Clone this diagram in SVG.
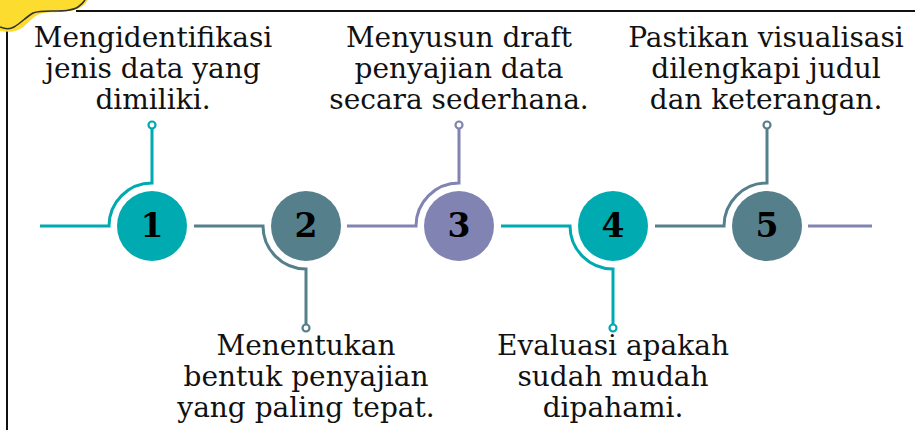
<svg xmlns="http://www.w3.org/2000/svg" width="915" height="430" viewBox="0 0 915 430">
<style>
.t{font-family:"DejaVu Serif","Liberation Serif",serif;font-size:28px;fill:#111;text-anchor:middle}
.n{font-family:"DejaVu Serif","Liberation Serif",serif;font-size:33px;font-weight:bold;fill:#000;text-anchor:middle}
.c{fill:none;stroke-width:3}
.teal{stroke:#00AAB1}
.slate{stroke:#567F8C}
.purp{stroke:#8183B2}
.ring{fill:#fff;stroke-width:2.2}
</style>
<rect width="915" height="430" fill="#fff"/>
<!-- frame -->
<g id="frame" fill="none" stroke="#111" stroke-width="2">
<line x1="7" y1="29" x2="7" y2="430"/>
<line x1="76" y1="11" x2="915" y2="11"/>
</g>
<g id="blob">
<path d="M0,0 L88,0 C84,6 80,9 70,11 C60,13 48,11 40,14 C33,16 30,22 22,28 C14,33 6,32 0,31 Z" fill="#FCDC2E"/>
<path d="M0,27 C5,29 9,30 14,27 C21,23 26,17 33,13 C38,11 44,11 52,11 C62,11 72,11 78,7 C81,5 83,3 85,0" fill="none" stroke="#333" stroke-width="1.6"/>
</g>
<g id="connectors">
<path class="c teal" d="M40,226 H109 A43,43 0 0 1 152,183 V128"/>
<circle class="ring teal" cx="152" cy="125" r="3.5"/>
<path class="c slate" d="M194,226 H263 A43,43 0 0 0 306,269 V325"/>
<circle class="ring slate" cx="306" cy="328" r="3.5"/>
<path class="c purp" d="M347,226 H416 A43,43 0 0 1 459,183 V128"/>
<circle class="ring purp" cx="459" cy="125" r="3.5"/>
<path class="c teal" d="M501,226 H570 A43,43 0 0 0 613,269 V325"/>
<circle class="ring teal" cx="613" cy="328" r="3.5"/>
<path class="c slate" d="M655,226 H724 A43,43 0 0 1 767,183 V128"/>
<circle class="ring slate" cx="767" cy="125" r="3.5"/>
<path class="c purp" d="M808,226 H872"/>
</g>
<g id="node1">
<circle cx="152" cy="226" r="35" fill="#00AAB1"/>
<text class="n" x="152" y="237">1</text>
<text class="t" x="153" y="47">Mengidentifikasi</text>
<text class="t" x="153" y="78">jenis data yang</text>
<text class="t" x="153" y="109">dimiliki.</text>
</g>
<g id="node2">
<circle cx="306" cy="226" r="35" fill="#567F8C"/>
<text class="n" x="306" y="237">2</text>
<text class="t" x="306" y="355">Menentukan</text>
<text class="t" x="306" y="386">bentuk penyajian</text>
<text class="t" x="306" y="417">yang paling tepat.</text>
</g>
<g id="node3">
<circle cx="459" cy="226" r="35" fill="#8183B2"/>
<text class="n" x="459" y="237">3</text>
<text class="t" x="459" y="47">Menyusun draft</text>
<text class="t" x="459" y="78">penyajian data</text>
<text class="t" x="459" y="109">secara sederhana.</text>
</g>
<g id="node4">
<circle cx="613" cy="226" r="35" fill="#00AAB1"/>
<text class="n" x="613" y="237">4</text>
<text class="t" x="613" y="355">Evaluasi apakah</text>
<text class="t" x="613" y="386">sudah mudah</text>
<text class="t" x="613" y="417">dipahami.</text>
</g>
<g id="node5">
<circle cx="767" cy="226" r="35" fill="#567F8C"/>
<text class="n" x="767" y="237">5</text>
<text class="t" x="766" y="47">Pastikan visualisasi</text>
<text class="t" x="766" y="78">dilengkapi judul</text>
<text class="t" x="766" y="109">dan keterangan.</text>
</g>
</svg>
